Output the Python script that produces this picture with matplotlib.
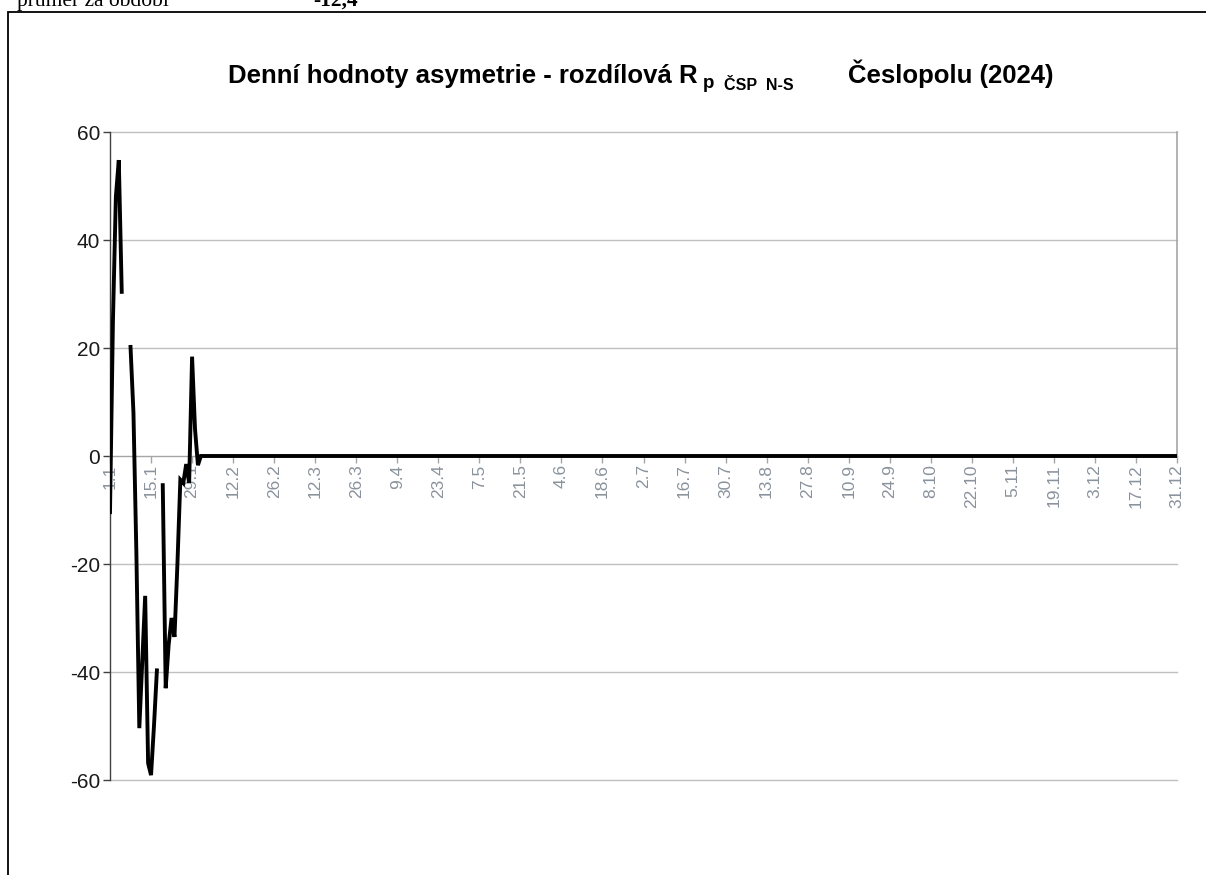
import numpy as np
import matplotlib.pyplot as plt
from matplotlib.patches import Rectangle

# denní hodnoty (leden), zbytek roku nulový, NaN = chybějící den
leden = [-10.4, 25.0, 48.0, 54.8, 30.4, np.nan, np.nan, 20.2, 8.0, -18.0,
         -50.4, -38.0, -25.9, -56.9, -59.1, -50.0, -39.7, np.nan, -5.4, -43.0,
         -35.0, -30.0, -33.5, -20.0, -4.4, -5.0, -1.5, -5.0, 18.4, 5.0, -1.7]
zbytek = [0.0] * (365 - len(leden))
hodnoty = leden + zbytek

popisky_x = ['1.1', '15.1', '29.1', '12.2', '26.2', '12.3', '26.3', '9.4', '23.4',
             '7.5', '21.5', '4.6', '18.6', '2.7', '16.7', '30.7', '13.8', '27.8',
             '10.9', '24.9', '8.10', '22.10', '5.11', '19.11', '3.12', '17.12', '31.12']
y_ticks = [-60, -40, -20, 0, 20, 40, 60]

prumer_text = 'průměr za období'
prumer_hodnota = '-12,4'

W, H = 1206, 875
fig = plt.figure(figsize=(W / 100, H / 100), dpi=100)
fig.patch.set_facecolor('white')

def fx(px):
    return px / W

def fy(py):
    return 1 - py / H

ax = fig.add_axes([fx(110), fy(780), fx(1177) - fx(110), fy(132) - fy(780)])

dny = np.arange(len(hodnoty))
ax.plot(dny, hodnoty, color='black', linewidth=2.8, solid_joinstyle='miter', zorder=3)

ax.set_xlim(0, 364)
ax.set_ylim(-60, 60)

# mřížka
for v in y_ticks:
    if v != 0:
        ax.axhline(v, color='#c0c0c0', linewidth=1, zorder=1, clip_on=False)

ax.spines['top'].set_visible(False)
ax.spines['right'].set_visible(False)
ax.spines['left'].set_color('#404040')
ax.spines['left'].set_linewidth(1)
ax.spines['bottom'].set_position(('data', 0))
ax.spines['bottom'].set_color('#a6a6a6')
ax.spines['bottom'].set_linewidth(1)
ax.plot([364, 364], [0, 60], color='#a6a6a6', linewidth=1.2, zorder=1, clip_on=False)

ax.set_yticks(y_ticks)
ax.set_yticklabels([str(v) for v in y_ticks], fontsize=15, family='Liberation Sans', color='#1a1a1a')
ax.tick_params(axis='y', direction='out', length=5, width=1, color='#404040', pad=2)

ax.set_xticks(np.arange(0, 365, 14))
ax.set_xticklabels(popisky_x, rotation=90, fontsize=12.5, family='Liberation Sans', color='#8a929c')
ax.tick_params(axis='x', direction='out', length=5, width=1, color='#a6a6a6', pad=1)

# titulek po částech (dolní index)
fig.text(fx(228), fy(83), 'Denní hodnoty asymetrie - rozdílová R', fontsize=18.5, fontweight='bold',
         family='Liberation Sans', va='baseline', ha='left')
fig.text(fx(703), fy(88), 'p', fontsize=13.5, fontweight='bold', family='Liberation Sans', va='baseline')
fig.text(fx(724), fy(90), 'ČSP  N-S', fontsize=11.5, fontweight='bold', family='Liberation Sans', va='baseline')
fig.text(fx(848), fy(83), 'Česlopolu (2024)', fontsize=18.5, fontweight='bold',
         family='Liberation Sans', va='baseline', ha='left')

# text nad grafem (v předloze oříznutý horním okrajem)
fig.text(fx(17), fy(6), prumer_text, fontsize=15.5, family='Liberation Serif', va='baseline')
fig.text(fx(313), fy(6), prumer_hodnota, fontsize=15.5, fontweight='bold', family='Liberation Serif', va='baseline')

# rámeček grafu
fig.patches.append(Rectangle((fx(8), fy(880)), fx(1210) - fx(8), fy(12) - fy(880),
                             transform=fig.transFigure, fill=False, edgecolor='black', linewidth=1.3))

fig.savefig('out.png', dpi=100)
